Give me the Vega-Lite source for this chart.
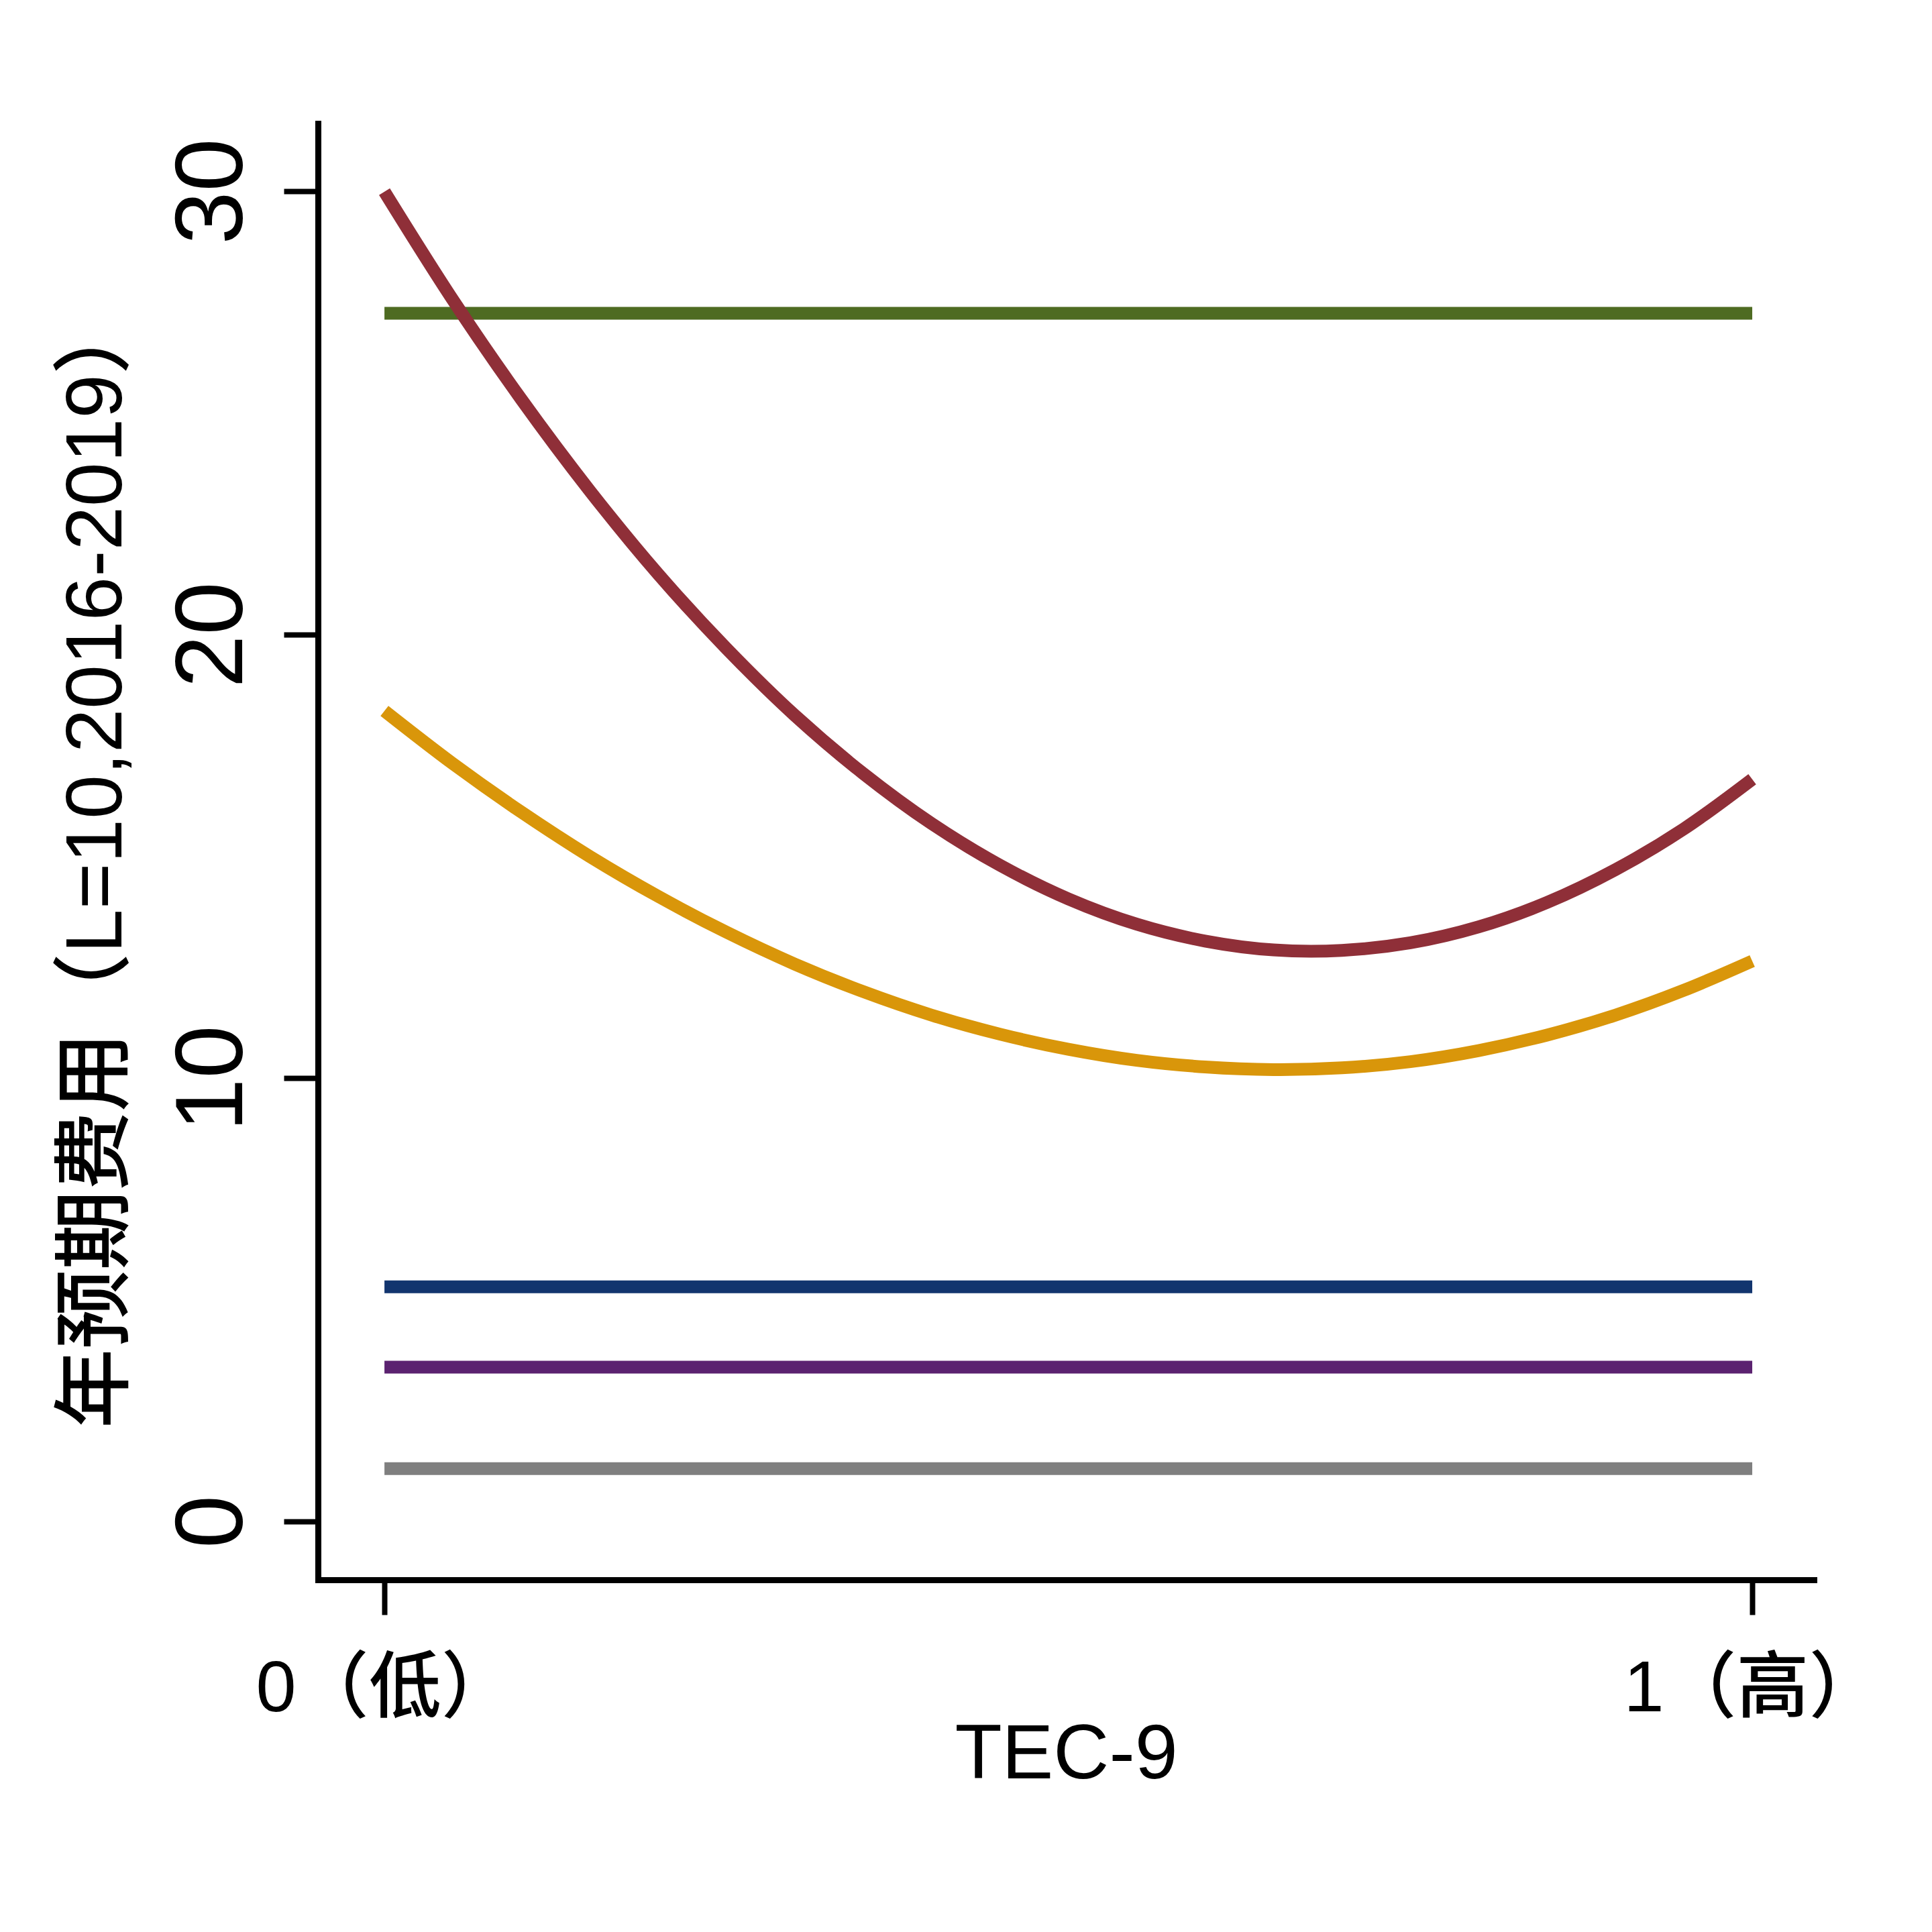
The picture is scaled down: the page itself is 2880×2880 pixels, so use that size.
{
  "$schema": "https://vega.github.io/schema/vega-lite/v6.json",
  "autosize": "none",
  "width": 2230,
  "height": 2171,
  "padding": {"left": 474, "top": 184, "right": 176, "bottom": 525},
  "background": "white",
  "config": {
    "view": {"stroke": null},
    "font": "Liberation Sans, Noto Sans CJK SC",
    "axis": {
      "domainColor": "black",
      "domainWidth": 9,
      "domainCap": "square",
      "tickColor": "black",
      "tickWidth": 8,
      "labelColor": "black",
      "titleColor": "black",
      "grid": false,
      "labelLimit": 0,
      "titleLimit": 0,
      "labelFont": "Liberation Sans, Noto Sans CJK SC",
      "titleFont": "Liberation Sans, Noto Sans CJK SC",
      "titleFontWeight": 500,
      "labelFontWeight": 500
    }
  },
  "datasets": {
    "flat": [
      {"series": "A", "x": 0, "y": 27.25},
      {"series": "A", "x": 1, "y": 27.25},
      {"series": "D", "x": 0, "y": 5.29},
      {"series": "D", "x": 1, "y": 5.29},
      {"series": "E", "x": 0, "y": 3.48},
      {"series": "E", "x": 1, "y": 3.48},
      {"series": "F", "x": 0, "y": 1.19},
      {"series": "F", "x": 1, "y": 1.19}
    ],
    "curves": [
      {"series": "B", "x": 0, "y": 29.99},
      {"series": "B", "x": 0.05, "y": 27.55},
      {"series": "B", "x": 0.1, "y": 25.31},
      {"series": "B", "x": 0.15, "y": 23.25},
      {"series": "B", "x": 0.2, "y": 21.37},
      {"series": "B", "x": 0.25, "y": 19.69},
      {"series": "B", "x": 0.3, "y": 18.18},
      {"series": "B", "x": 0.35, "y": 16.87},
      {"series": "B", "x": 0.4, "y": 15.74},
      {"series": "B", "x": 0.45, "y": 14.8},
      {"series": "B", "x": 0.5, "y": 14.04},
      {"series": "B", "x": 0.55, "y": 13.47},
      {"series": "B", "x": 0.6, "y": 13.09},
      {"series": "B", "x": 0.65, "y": 12.89},
      {"series": "B", "x": 0.7, "y": 12.88},
      {"series": "B", "x": 0.75, "y": 13.05},
      {"series": "B", "x": 0.8, "y": 13.41},
      {"series": "B", "x": 0.85, "y": 13.96},
      {"series": "B", "x": 0.9, "y": 14.7},
      {"series": "B", "x": 0.95, "y": 15.62},
      {"series": "B", "x": 1, "y": 16.74},
      {"series": "C", "x": 0, "y": 18.28},
      {"series": "C", "x": 0.05, "y": 17.09},
      {"series": "C", "x": 0.1, "y": 16.0},
      {"series": "C", "x": 0.15, "y": 15.0},
      {"series": "C", "x": 0.2, "y": 14.1},
      {"series": "C", "x": 0.25, "y": 13.29},
      {"series": "C", "x": 0.3, "y": 12.57},
      {"series": "C", "x": 0.35, "y": 11.95},
      {"series": "C", "x": 0.4, "y": 11.42},
      {"series": "C", "x": 0.45, "y": 10.99},
      {"series": "C", "x": 0.5, "y": 10.65},
      {"series": "C", "x": 0.55, "y": 10.4},
      {"series": "C", "x": 0.6, "y": 10.25},
      {"series": "C", "x": 0.65, "y": 10.19},
      {"series": "C", "x": 0.7, "y": 10.23},
      {"series": "C", "x": 0.75, "y": 10.37},
      {"series": "C", "x": 0.8, "y": 10.62},
      {"series": "C", "x": 0.85, "y": 10.97},
      {"series": "C", "x": 0.9, "y": 11.42},
      {"series": "C", "x": 0.95, "y": 11.98},
      {"series": "C", "x": 1, "y": 12.64}
    ]
  },
  "encoding": {
    "x": {
      "field": "x",
      "type": "quantitative",
      "scale": {"domain": [-0.0486, 1.0451], "nice": false, "zero": false},
      "axis": {
        "values": [0, 1],
        "labelExpr": "datum.value == 0 ? '0（低）' : '1（高）'",
        "labelFontSize": 108,
        "labelBaseline": "alphabetic",
        "labelAlign": "center",
        "labelPadding": 143,
        "tickSize": 52,
        "title": "TEC-9",
        "titleFontSize": 115,
        "titleBaseline": "alphabetic",
        "titleY": 295
      }
    },
    "y": {
      "field": "y",
      "type": "quantitative",
      "scale": {"domain": [-1.316, 31.53], "nice": false, "zero": false},
      "axis": {
        "values": [0, 10, 20, 30],
        "labelAngle": -90,
        "labelAlign": "center",
        "labelBaseline": "alphabetic",
        "labelFontSize": 142,
        "labelPadding": 63,
        "tickSize": 51,
        "title": "年预期费用（L=10,2016-2019）",
        "titleFontSize": 118,
        "titleAngle": -90,
        "titleAlign": "center",
        "titleBaseline": "middle",
        "titleX": -329,
        "titleY": 1100
      }
    },
    "color": {
      "field": "series",
      "type": "nominal",
      "scale": {
        "domain": ["A", "B", "C", "D", "E", "F"],
        "range": ["#4e6b22", "#8f2f38", "#d9960a", "#12356e", "#5b2270", "#7f7f7f"]
      },
      "legend": null
    }
  },
  "layer": [
    {"data": {"name": "flat"}, "mark": {"type": "line", "strokeWidth": 19}},
    {"data": {"name": "curves"}, "mark": {"type": "line", "strokeWidth": 19, "interpolate": "catmull-rom"}}
  ]
}
